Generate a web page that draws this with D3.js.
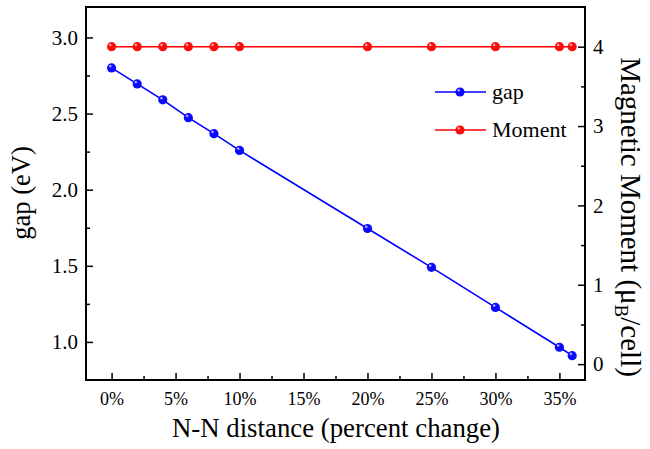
<!DOCTYPE html>
<html>
<head>
<meta charset="utf-8">
<script src="https://cdn.jsdelivr.net/npm/d3@7"></script>
<style>
  html, body { margin: 0; padding: 0; background: #fff; }
</style>
</head>
<body>
<svg id="chart" width="650" height="449"></svg>
<script>
// N-N distance change (%) for each computed structure
const strain = [0, 2, 4, 6, 8, 10, 20, 25, 30, 35, 36];
// band gap (eV)
const gap = [2.80, 2.695, 2.59, 2.473, 2.368, 2.258, 1.745, 1.49, 1.227, 0.965, 0.91];
// magnetic moment (μB per cell)
const moment = [4, 4, 4, 4, 4, 4, 4, 4, 4, 4, 4];

const xTicks = [0, 5, 10, 15, 20, 25, 30, 35];
const gapTicks = [1.0, 1.5, 2.0, 2.5, 3.0];
const momentTicks = [0, 1, 2, 3, 4];

const FONT = "'Liberation Serif'";
const svg = d3.select("#chart");
const L = 86, R = 585, T = 7, B = 380;

const x = d3.scaleLinear().domain([-2, 37]).range([L, R]);
const yGap = d3.scaleLinear().domain([0.75, 3.2]).range([B, T]);
const yMom = d3.scaleLinear().domain([-0.2, 4.5]).range([B, T]);

// sphere-style marker fills
const defs = svg.append("defs");
function sphere(id, color) {
  const g = defs.append("radialGradient").attr("id", id)
    .attr("cx", "40%").attr("cy", "35%").attr("r", "65%").attr("fx", "35%").attr("fy", "30%");
  g.append("stop").attr("offset", "0%").attr("stop-color", "#fff");
  g.append("stop").attr("offset", "30%").attr("stop-color", color);
  g.append("stop").attr("offset", "100%").attr("stop-color", color);
}
sphere("ballBlue", "#0a0aff");
sphere("ballRed", "#ff0a0a");

// axes (ticks pointing inward)
const major = 7, minor = 4;
const xAxis = d3.axisBottom(x).tickValues(xTicks).tickFormat(d => d + "%").tickSizeInner(-major).tickSizeOuter(0).tickPadding(12);
const xMinor = d3.axisBottom(x).tickValues(d3.range(-2.5, 37, 5).filter(v => v > -2)).tickFormat("").tickSizeInner(-minor).tickSizeOuter(0);
const yAxis = d3.axisLeft(yGap).tickValues(gapTicks).tickFormat(d3.format(".1f")).tickSizeInner(-major).tickSizeOuter(0).tickPadding(8);
const yMinor = d3.axisLeft(yGap).tickValues([1.25, 1.75, 2.25, 2.75]).tickFormat("").tickSizeInner(-minor).tickSizeOuter(0);
const y2Axis = d3.axisRight(yMom).tickValues(momentTicks).tickFormat(d3.format("d")).tickSizeInner(-major).tickSizeOuter(0).tickPadding(8);
const y2Minor = d3.axisRight(yMom).tickValues([0.5, 1.5, 2.5, 3.5]).tickFormat("").tickSizeInner(-minor).tickSizeOuter(0);

function style(size) {
  return g => {
    g.select(".domain").remove();
    g.selectAll("line").attr("stroke", "#000").attr("stroke-width", 1.5);
    g.selectAll("text").attr("fill", "#000").style("font-size", size + "px");
  };
}
svg.append("g").attr("transform", `translate(0,${B})`).call(xAxis).call(style(18));
svg.append("g").attr("transform", `translate(0,${B})`).call(xMinor).call(style(18));
svg.append("g").attr("transform", `translate(${L},0)`).call(yAxis).call(style(21));
svg.append("g").attr("transform", `translate(${L},0)`).call(yMinor).call(style(21));
svg.append("g").attr("transform", `translate(${R},0)`).call(y2Axis).call(style(21));
svg.append("g").attr("transform", `translate(${R},0)`).call(y2Minor).call(style(21));

// frame
svg.append("rect").attr("x", L).attr("y", T).attr("width", R - L).attr("height", B - T)
  .attr("fill", "none").attr("stroke", "#000").attr("stroke-width", 2);

// series
const series = [
  { name: "gap", values: gap, y: yGap, color: "#0000ff", fill: "url(#ballBlue)" },
  { name: "Moment", values: moment, y: yMom, color: "#ff0000", fill: "url(#ballRed)" }
];
series.forEach(s => {
  const line = d3.line().x((d, i) => x(strain[i])).y(d => s.y(d));
  svg.append("path").datum(s.values).attr("d", line)
    .attr("fill", "none").attr("stroke", s.color).attr("stroke-width", 1.6);
  svg.append("g").selectAll("circle").data(s.values).join("circle")
    .attr("cx", (d, i) => x(strain[i])).attr("cy", d => s.y(d)).attr("r", 4.6)
    .attr("fill", s.fill);
});

// legend
const legend = svg.append("g");
series.forEach((s, i) => {
  const ly = 92 + i * 38;
  legend.append("line").attr("x1", 435).attr("x2", 486).attr("y1", ly).attr("y2", ly)
    .attr("stroke", s.color).attr("stroke-width", 1.6);
  legend.append("circle").attr("cx", 460).attr("cy", ly).attr("r", 4.6).attr("fill", s.fill);
  legend.append("text").attr("x", 492).attr("y", ly + 7).style("font-size", "22px").text(s.name);
});

// axis titles
svg.append("text").attr("x", 336).attr("y", 437).attr("text-anchor", "middle")
  .style("font-size", "26.8px").text("N-N distance (percent change)");
svg.append("text").attr("transform", `translate(30,193) rotate(-90)`).attr("text-anchor", "middle")
  .style("font-size", "26.5px").text("gap (eV)");
const rt = svg.append("text").attr("transform", `translate(621,217) rotate(90)`).attr("text-anchor", "middle")
  .style("font-size", "29px");
rt.append("tspan").text("Magnetic Moment (μ");
rt.append("tspan").style("font-size", "19px").attr("dy", 6).text("B");
rt.append("tspan").attr("dy", -6).text("/cell)");

// every label in Times-style serif
svg.selectAll("text").style("font-family", FONT);
</script>
</body>
</html>
